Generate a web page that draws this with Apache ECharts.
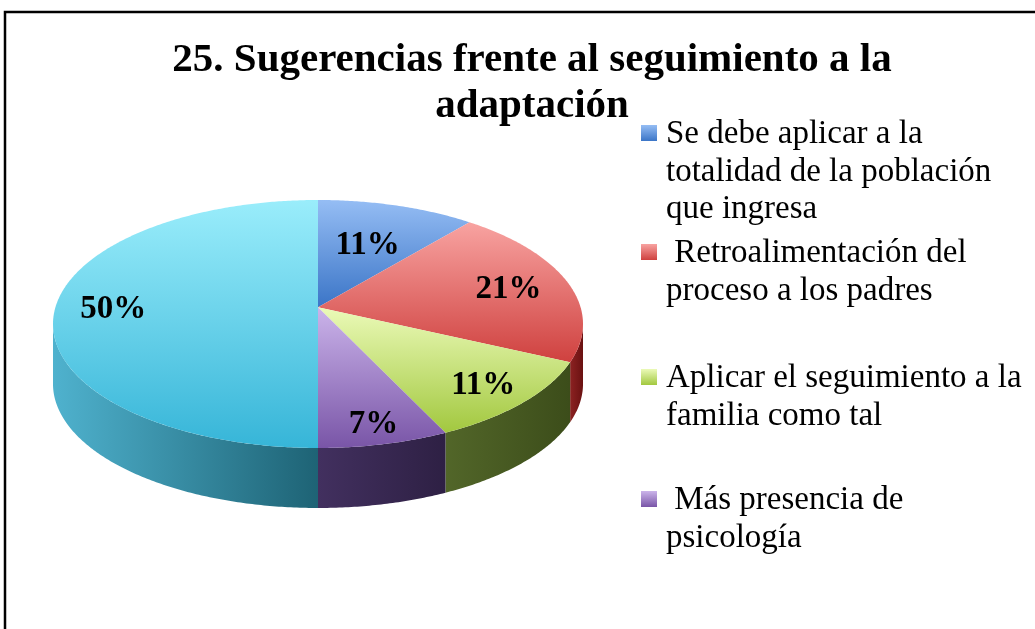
<!DOCTYPE html>
<html>
<head>
<meta charset="utf-8">
<title>25. Sugerencias frente al seguimiento a la adaptación</title>
<script src="https://cdn.jsdelivr.net/npm/echarts@6/dist/echarts.min.js"></script>
<style>
  html, body { margin: 0; padding: 0; background: #fff; }
  #chart { width: 1035px; height: 629px; }
</style>
</head>
<body>
<div id="chart"></div>
<script>
var titleText = '25. Sugerencias frente al seguimiento a la\nadaptación'
var categories = [
  'Se debe aplicar a la\ntotalidad de la población\nque ingresa',
  ' Retroalimentación del\nproceso a los padres',
  'Aplicar el seguimiento a la\nfamilia como tal',
  ' Más presencia de\npsicología',
  ''
]
var values = [11, 21, 11, 7, 50]

// face colours (light, dark) and side colours (left, right)
var topColors = [
  ['#95bdf4', '#3b75c7'],
  ['#f8a3a1', '#cf413f'],
  ['#ebfab8', '#a2c83f'],
  ['#cbb4ea', '#7955a7'],
  ['#9aedfb', '#36b5d8']
]
var sideColors = [
  ['#2c5a98', '#1f4577'],
  ['#8c2222', '#6a1111'],
  ['#526629', '#3c4d1a'],
  ['#42305f', '#2e2044'],
  ['#4fb2ce', '#1e6375']
]

// layout of the tilted pie
var CX = 318, CY = 324, RX = 265, RY = 124, DEPTH = 60, T = 0.136
var labelR = [0.6, 0.76, 0.82, 0.86, 0.78]
var legendTop = [116, 235, 360, 482]

function proj(a, r) {
  var u = r * Math.sin(a)
  var v = -r * Math.cos(a)
  var k = 1 - T * v
  return [CX + RX * u * Math.sqrt(1 - T * T) / k, CY + RY * (v - T) / k]
}

function renderItem(params, api) {
  var i = params.dataIndex
  var total = 0
  var start = 0
  values.forEach(function(v, k) {
    total += v
    if (k < i) start += v
  })
  var val = api.value(0)
  var a0 = start / total * Math.PI * 2
  var a1 = (start + val) / total * Math.PI * 2
  var children = []

  // visible front wall
  var vis0 = Math.acos(-T)
  var vis1 = Math.PI * 2 - vis0
  var s0 = Math.max(a0, vis0)
  var s1 = Math.min(a1, vis1)
  if (s1 > s0) {
    var upper = []
    var lower = []
    var n = Math.max(4, Math.ceil((s1 - s0) / 0.01))
    for (var s = 0; s <= n; s++) {
      var p = proj(s0 + (s1 - s0) * s / n, 1)
      upper.push(p)
      lower.push([p[0], p[1] + DEPTH])
    }
    children.push({
      type: 'polygon',
      z2: 1,
      shape: { points: upper.concat(lower.reverse()) },
      style: {
        fill: new echarts.graphic.LinearGradient(0, 0, 1, 0, [
          { offset: 0, color: sideColors[i][0] },
          { offset: 1, color: sideColors[i][1] }
        ])
      }
    })
  }

  // top face
  var pts = [proj(0, 0)]
  var m = Math.max(4, Math.ceil((a1 - a0) / 0.01))
  for (var j = 0; j <= m; j++) {
    pts.push(proj(a0 + (a1 - a0) * j / m, 1))
  }
  children.push({
    type: 'polygon',
    z2: 2,
    shape: { points: pts },
    style: {
      fill: new echarts.graphic.LinearGradient(0, 0, 0, 1, [
        { offset: 0, color: topColors[i][0] },
        { offset: 1, color: topColors[i][1] }
      ])
    }
  })

  var lp = proj((a0 + a1) / 2, labelR[i])
  children.push({
    type: 'text',
    z2: 3,
    x: lp[0],
    y: lp[1] + 2,
    style: {
      text: val + '%',
      fill: '#000',
      font: 'bold 33px "Liberation Serif"',
      textAlign: 'center',
      textVerticalAlign: 'middle'
    }
  })
  return { type: 'group', children: children }
}

var graphics = [{
  type: 'rect',
  z: -1,
  shape: { x: 5, y: 12, width: 1100, height: 700 },
  style: { fill: 'none', stroke: '#000', lineWidth: 2.5 }
}]
categories.forEach(function(name, i) {
  if (!name) return
  graphics.push({
    type: 'rect',
    shape: { x: 641, y: legendTop[i] + 9, width: 16, height: 16 },
    style: {
      fill: new echarts.graphic.LinearGradient(0, 0, 0, 1, [
        { offset: 0, color: topColors[i][0] },
        { offset: 1, color: topColors[i][1] }
      ])
    }
  })
  graphics.push({
    type: 'text',
    x: 666,
    y: legendTop[i],
    style: {
      text: name,
      fill: '#000',
      font: '33px "Liberation Serif"',
      lineHeight: 37.5,
      textAlign: 'left',
      textVerticalAlign: 'top'
    }
  })
})

var chart = echarts.init(document.getElementById('chart'))
chart.setOption({
  animation: false,
  title: {
    text: titleText,
    left: 527,
    top: 32,
    textAlign: 'center',
    textStyle: {
      fontFamily: 'Liberation Serif',
      fontWeight: 'bold',
      fontSize: 41,
      lineHeight: 46,
      color: '#000'
    }
  },
  graphic: graphics,
  series: [{
    type: 'custom',
    coordinateSystem: 'none',
    renderItem: renderItem,
    data: values.map(function(v, i) { return { name: categories[i], value: [v] } })
  }]
})
</script>
</body>
</html>
